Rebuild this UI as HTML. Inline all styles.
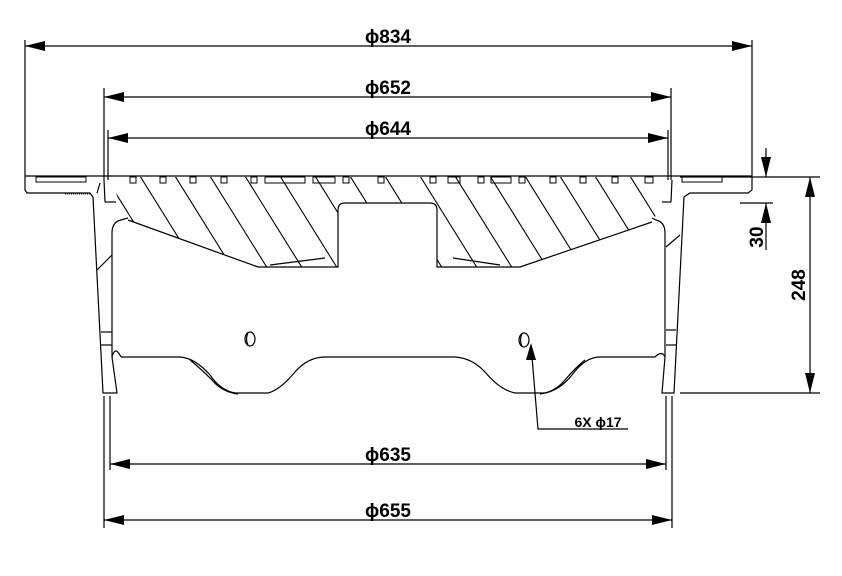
<!DOCTYPE html>
<html><head><meta charset="utf-8"><style>
html,body{margin:0;padding:0;background:#fff;}
svg{display:block;}
text{font-family:"Liberation Sans",sans-serif;font-weight:bold;font-size:19px;fill:#000;}
</style></head><body>
<svg width="842" height="576" viewBox="0 0 842 576" xmlns="http://www.w3.org/2000/svg">
<defs>
<clipPath id="hc">
<path d="M110,177 L665,177 L662,205 L652,222 L520,267 L437,267 L437,210 Q437,203 430,203 L345,203 Q338,203 338,210 L338,267 L258,267 L128,220 L118,200 L112,177 Z"/>
</clipPath>
</defs>
<g stroke="#000" stroke-width="1.2" fill="none">
<line x1="25" y1="40" x2="25" y2="176"/><line x1="752" y1="40" x2="752" y2="176"/>
<line x1="25" y1="46" x2="752" y2="46"/>
<line x1="104" y1="88" x2="104" y2="180"/><line x1="671" y1="88" x2="671" y2="180"/>
<line x1="104" y1="97" x2="671" y2="97"/>
<line x1="108" y1="130" x2="108" y2="180"/><line x1="668" y1="130" x2="668" y2="180"/>
<line x1="108" y1="138" x2="668" y2="138"/>
<line x1="104" y1="396" x2="104" y2="528"/><line x1="672" y1="396" x2="672" y2="528"/>
<line x1="110" y1="396" x2="110" y2="470"/><line x1="666" y1="396" x2="666" y2="470"/>
<line x1="110" y1="464" x2="666" y2="464"/>
<line x1="104" y1="520" x2="672" y2="520"/>
<line x1="680" y1="177" x2="820" y2="177"/>
<line x1="680" y1="393" x2="820" y2="393"/>
<line x1="740" y1="203" x2="773" y2="203"/>
<line x1="810" y1="177" x2="810" y2="393"/>
<line x1="766" y1="148" x2="766" y2="177"/>
<line x1="766" y1="203" x2="766" y2="250"/>
<line x1="25" y1="176" x2="752" y2="176"/>
<path d="M25,176 L25,190 L27,193 L90,193 L93,197 L103,393 L117,393 L112,357 L112,233 Q112,222 121,220 L128,218"/>
<path d="M752,176 L752,190 L748,193 L690,193 L684,197 L674,393 L662,393 L665,357 L665,233 Q665,222 656,220 L652,218"/>
<line x1="97" y1="193" x2="100" y2="183"/><line x1="104" y1="180" x2="105" y2="202"/><line x1="105" y1="202" x2="116" y2="202"/>
<line x1="672" y1="180" x2="671" y2="202"/><line x1="671" y1="202" x2="662" y2="202"/>
<path d="M128,220 L258,267 L338,267 L338,210 Q338,203 345,203 L430,203 Q437,203 437,210 L437,267 L520,267 L652,222"/>
<line x1="270" y1="265" x2="325" y2="258"/><line x1="453" y1="258" x2="500" y2="265"/>
<path d="M112,357 Q115,345 121,357 M121,357 L180,357 Q195,358 210,375 Q220,390 235,393 L268,393 Q280,390 295,372 Q308,357 325,357 L455,357 Q472,358 485,372 Q500,390 515,393 L545,393 Q560,390 572,375 Q585,357 600,357 L655,357 Q662,350 665,357"/>
<path d="M190,360 Q200,368 212,380 Q222,392 238,394"/>
<path d="M585,360 Q575,368 565,380 Q555,392 540,394"/>
<line x1="97" y1="270" x2="112" y2="255"/><line x1="680" y1="235" x2="666" y2="247"/>
<line x1="101" y1="332" x2="112" y2="332"/><line x1="101" y1="345" x2="112" y2="345"/>
<line x1="666" y1="330" x2="676" y2="330"/><line x1="666" y1="345" x2="676" y2="345"/>
<ellipse cx="250" cy="339" rx="5" ry="7"/><path d="M248,333 Q245,339 248,345"/>
<ellipse cx="524" cy="340" rx="5" ry="7"/><path d="M522,334 Q519,340 522,346"/>
<polyline points="531,345 538,429 628,429"/>
</g>
<g clip-path="url(#hc)" stroke="#000" stroke-width="1.1">
<line x1="60" y1="160" x2="141" y2="290"/><line x1="95" y1="160" x2="176" y2="290"/>
<line x1="130" y1="160" x2="211" y2="290"/><line x1="165" y1="160" x2="246" y2="290"/>
<line x1="200" y1="160" x2="281" y2="290"/><line x1="235" y1="160" x2="316" y2="290"/>
<line x1="270" y1="160" x2="351" y2="290"/><line x1="305" y1="160" x2="386" y2="290"/>
<line x1="340" y1="160" x2="421" y2="290"/><line x1="375" y1="160" x2="456" y2="290"/>
<line x1="410" y1="160" x2="491" y2="290"/><line x1="445" y1="160" x2="526" y2="290"/>
<line x1="480" y1="160" x2="561" y2="290"/><line x1="515" y1="160" x2="596" y2="290"/>
<line x1="550" y1="160" x2="631" y2="290"/><line x1="585" y1="160" x2="666" y2="290"/>
<line x1="620" y1="160" x2="701" y2="290"/><line x1="655" y1="160" x2="736" y2="290"/>
</g>
<g stroke="#000" stroke-width="1" fill="none">
<rect x="130" y="177" width="6" height="6"/><rect x="160" y="177" width="6" height="6"/>
<rect x="190" y="177" width="6" height="6"/><rect x="221" y="177" width="6" height="6"/>
<rect x="251" y="177" width="6" height="6"/><rect x="265" y="177" width="40" height="6"/>
<rect x="313" y="177" width="22" height="6"/><rect x="343" y="177" width="6" height="6"/>
<rect x="378" y="177" width="6" height="6"/><rect x="430" y="177" width="6" height="6"/>
<rect x="448" y="177" width="12" height="6"/><rect x="478" y="177" width="6" height="6"/>
<rect x="491" y="177" width="20" height="6"/><rect x="519" y="177" width="6" height="6"/>
<rect x="550" y="177" width="6" height="6"/><rect x="580" y="177" width="6" height="6"/>
<rect x="612" y="177" width="6" height="6"/><rect x="645" y="177" width="8" height="6"/>
<rect x="36" y="177" width="50" height="5"/><rect x="682" y="177" width="40" height="5"/>
<line x1="65" y1="194" x2="90" y2="194" stroke-dasharray="1,1"/>
</g>
<g fill="#000">
<polygon points="25,46 45,41 45,51"/><polygon points="752,46 732,41 732,51"/>
<polygon points="104,97 124,92 124,102"/><polygon points="671,97 651,92 651,102"/>
<polygon points="108,138 128,133 128,143"/><polygon points="668,138 648,133 648,143"/>
<polygon points="110,464 130,459 130,469"/><polygon points="666,464 646,459 646,469"/>
<polygon points="104,520 124,515 124,525"/><polygon points="672,520 652,515 652,525"/>
<polygon points="810,177 805,197 815,197"/><polygon points="810,393 805,373 815,373"/>
<polygon points="766,177 761,157 771,157"/><polygon points="766,203 761,223 771,223"/>
<polygon points="531,343 526,360 536,360"/>
</g>
<text x="388" y="43" text-anchor="middle">ϕ834</text>
<text x="388" y="94" text-anchor="middle">ϕ652</text>
<text x="388" y="135" text-anchor="middle">ϕ644</text>
<text x="388" y="461" text-anchor="middle">ϕ635</text>
<text x="388" y="517" text-anchor="middle">ϕ655</text>
<text x="598" y="427" text-anchor="middle" style="font-size:14px">6X ϕ17</text>
<text transform="translate(805,285) rotate(-90)" text-anchor="middle">248</text>
<text transform="translate(763,237) rotate(-90)" text-anchor="middle">30</text>
</svg>
</body></html>
